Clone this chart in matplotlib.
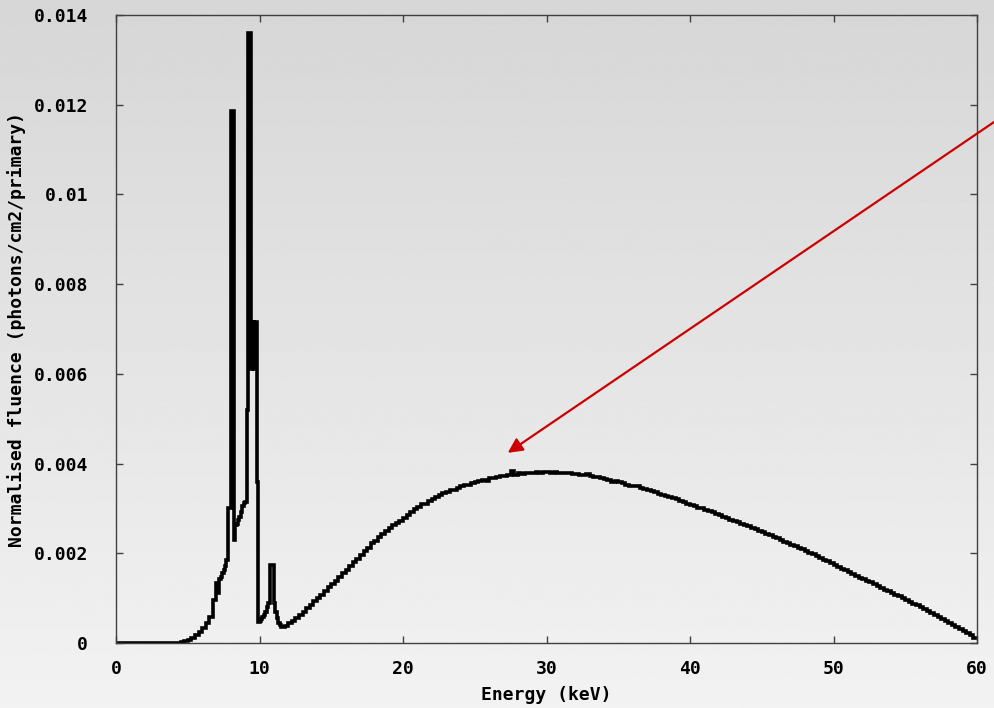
import matplotlib

matplotlib.use("Agg")
import matplotlib.pyplot as plt
import numpy as np

# bin edges in keV: 0.25 keV below 7 keV, 0.1 keV across the line region, 0.25 keV above
low_edges = np.linspace(0.0, 7.0, 29)[:-1]
line_edges = np.linspace(7.0, 11.5, 46)[:-1]
cont_edges = np.linspace(11.5, 60.0, 195)
energy_edges = np.concatenate([low_edges, line_edges, cont_edges])

# normalised fluence, in units of 1e-3 photons/cm2/primary
low_vals = [0.0] * 17 + [0.01,
    0.02, 0.04, 0.07, 0.11, 0.17, 0.24, 0.33, 0.44, 0.57, 0.95]

line_vals = [
    1.34, 1.12, 1.42, 1.47, 1.55, 1.63, 1.72, 1.85, 3.00, 3.00,
    11.85, 11.85, 2.30, 2.62, 2.65, 2.75, 2.82, 2.92, 3.05, 3.12,
    3.15, 5.20, 13.60, 13.60, 6.10, 7.16, 6.10, 7.16, 3.60, 0.47,
    0.50, 0.53, 0.58, 0.62, 0.70, 0.80, 0.90, 1.75, 1.75, 1.75,
    0.89, 0.70, 0.55, 0.45, 0.40,
]

cont_vals = [
    0.36, 0.38,
    0.44, 0.50, 0.56, 0.62,
    0.70, 0.77, 0.85, 0.93,
    1.00, 1.08, 1.15, 1.24,
    1.31, 1.38, 1.47, 1.55,
    1.63, 1.72, 1.80, 1.88,
    1.96, 2.05, 2.12, 2.22,
    2.28, 2.36, 2.42, 2.50,
    2.56, 2.62, 2.68, 2.73,
    2.79, 2.85, 2.92, 2.98,
    3.03, 3.10, 3.10, 3.16,
    3.22, 3.25, 3.29, 3.34,
    3.36, 3.40, 3.42, 3.46,
    3.49, 3.52, 3.53, 3.57,
    3.59, 3.61, 3.63, 3.62,
    3.67, 3.68, 3.69, 3.72,
    3.72, 3.74, 3.83, 3.75,
    3.78, 3.77, 3.80, 3.79,
    3.80, 3.82, 3.80, 3.81,
    3.82, 3.80, 3.81, 3.79,
    3.80, 3.78, 3.80, 3.76,
    3.77, 3.75, 3.74, 3.76,
    3.72, 3.70, 3.69, 3.68,
    3.66, 3.64, 3.60, 3.62,
    3.58, 3.56, 3.53, 3.51,
    3.49, 3.50, 3.45, 3.43,
    3.40, 3.38, 3.36, 3.33,
    3.31, 3.28, 3.25, 3.23,
    3.20, 3.17, 3.14, 3.11,
    3.08, 3.06, 3.02, 3.00,
    2.97, 2.94, 2.91, 2.88,
    2.85, 2.82, 2.79, 2.75,
    2.72, 2.70, 2.66, 2.63,
    2.60, 2.56, 2.54, 2.50,
    2.47, 2.44, 2.40, 2.37,
    2.33, 2.30, 2.26, 2.23,
    2.19, 2.16, 2.12, 2.09,
    2.05, 2.01, 1.98, 1.94,
    1.90, 1.86, 1.82, 1.78,
    1.74, 1.70, 1.66, 1.62,
    1.58, 1.54, 1.50, 1.46,
    1.42, 1.38, 1.35, 1.31,
    1.27, 1.23, 1.19, 1.16,
    1.12, 1.08, 1.04, 1.00,
    0.96, 0.92, 0.88, 0.84,
    0.80, 0.75, 0.71, 0.66,
    0.62, 0.58, 0.53, 0.49,
    0.45, 0.40, 0.36, 0.31,
    0.27, 0.22, 0.17, 0.12,
]

fluence = np.array(low_vals + line_vals + cont_vals) * 1e-3

x_ticks = [0, 10, 20, 30, 40, 50, 60]
y_ticks = [0, 0.002, 0.004, 0.006, 0.008, 0.01, 0.012, 0.014]
y_tick_labels = ["0", "0.002", "0.004", "0.006", "0.008", "0.01", "0.012", "0.014"]

arrow_tip = (27.3, 0.00424)
arrow_tail = (62.5, 0.0119)

fig = plt.figure(figsize=(9.94, 7.08), dpi=100)

# grey vertical gradient behind everything
bg = fig.add_axes([0, 0, 1, 1], zorder=-10)
grad = np.linspace(0.95, 0.84, 256).reshape(-1, 1)
bg.imshow(grad, cmap="gray", vmin=0, vmax=1, aspect="auto",
          extent=[0, 1, 0, 1], origin="lower")
bg.axis("off")

ax = fig.add_axes([0.1167, 0.0918, 0.8662, 0.887])
ax.set_facecolor("none")

ax.stairs(fluence, energy_edges, color="black", linewidth=2.6, baseline=None)

ax.set_xlim(0, 60)
ax.set_ylim(0, 0.014)
ax.set_xticks(x_ticks)
ax.set_xticklabels([str(t) for t in x_ticks])
ax.set_yticks(y_ticks)
ax.set_yticklabels(y_tick_labels)

font = dict(family="DejaVu Sans Mono", fontweight="bold", fontsize=13)
for lab in ax.get_xticklabels() + ax.get_yticklabels():
    lab.set_fontfamily("DejaVu Sans Mono")
    lab.set_fontweight("bold")
    lab.set_fontsize(13)

ax.tick_params(direction="in", length=5, width=1, color="#404040",
               top=True, right=True, labeltop=False, labelright=False)
ax.tick_params(axis="y", pad=20)
ax.tick_params(axis="x", pad=12)
for s in ax.spines.values():
    s.set_color("#404040")
    s.set_linewidth(1)

ax.set_xlabel("Energy (keV)", labelpad=6, **font)
ax.set_ylabel("Normalised fluence (photons/cm2/primary)", labelpad=6, **font)

ax.annotate("", xy=arrow_tip, xytext=arrow_tail, xycoords="data",
            annotation_clip=False,
            arrowprops=dict(arrowstyle="-|>", color="#cc0000", lw=1.6,
                            mutation_scale=22, shrinkA=0, shrinkB=0))

fig.savefig("out.png", dpi=100)
